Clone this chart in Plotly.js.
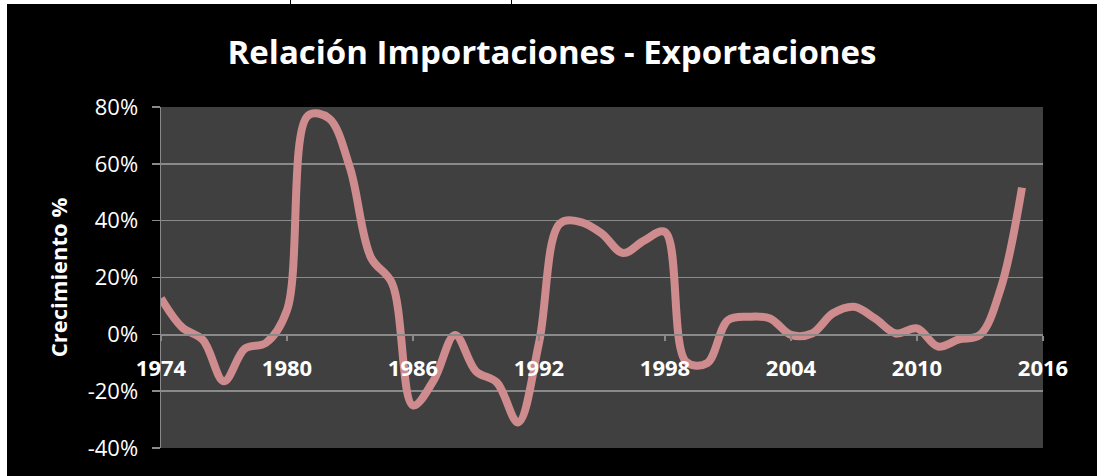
<!DOCTYPE html>
<html>
<head>
<meta charset="utf-8">
<script src="https://cdn.plot.ly/plotly-3.0.1.min.js"></script>
<style>
  html, body { margin: 0; padding: 0; background: #ffffff; width: 1097px; height: 476px; overflow: hidden; }
  #chart { position: absolute; left: 7px; top: 4px; width: 1090px; height: 472px; background: #000; }
  .vl { position: absolute; top: 0; width: 1px; height: 4px; background: #000; }
</style>
</head>
<body>
<div class="vl" style="left:290px"></div>
<div class="vl" style="left:511px"></div>
<div id="chart"></div>
<script>
const years = [1974,1975,1976,1977,1978,1979,1980,1981,1982,1983,1984,1985,1986,1987,1988,1989,1990,1991,1992,1993,1994,1995,1996,1997,1998,1999,2000,2001,2002,2003,2004,2005,2006,2007,2008,2009,2010,2011,2012,2013,2014,2015];
const growth = [0.127,0.025,-0.02,-0.165,-0.05,-0.03,0.085,0.77,0.76,0.585,0.27,0.18,-0.25,-0.16,-0.002,-0.13,-0.17,-0.31,-0.03,0.39,0.395,0.354,0.286,0.33,0.36,-0.096,-0.102,0.05,0.062,0.056,-0.002,0.003,0.074,0.097,0.056,0.003,0.021,-0.043,-0.018,-0.002,0.165,0.516];
const xTicks = [1974,1980,1986,1992,1998,2004,2010,2016];
const yTicks = [-0.4,-0.2,0,0.2,0.4,0.6,0.8];
const yTickText = ['-40%','-20%','0%','20%','40%','60%','80%'];

const grid = '#8a8a8a';
const trace = {
  x: years, y: growth, type: 'scatter', mode: 'lines',
  line: { color: '#cf8c8e', width: 8, shape: 'spline', smoothing: 1 },
  hoverinfo: 'skip'
};
const layout = {
  width: 1090, height: 472,
  paper_bgcolor: '#000000', plot_bgcolor: '#404040',
  margin: { l: 154, r: 54, t: 103, b: 28, pad: 0 },
  showlegend: false,
  title: {
    text: '<b>Relación Importaciones - Exportaciones</b>',
    font: { family: 'Open Sans', size: 33, color: '#ffffff' },
    xref: 'container', x: 0.5, xanchor: 'center',
    yref: 'container', y: 0.898, yanchor: 'middle'
  },
  xaxis: {
    type: 'linear', range: [1974, 2016],
    tickvals: xTicks, ticktext: xTicks.map(String),
    anchor: 'free', position: 1/3,
    showgrid: false, zeroline: false,
    showline: true, linecolor: grid, linewidth: 1.5,
    ticks: 'outside', ticklen: 5, tickcolor: grid, tickwidth: 1.5,
    ticklabelstandoff: 9,
    tickfont: { family: 'Open Sans', size: 22, color: '#ffffff', weight: 'bold' }
  },
  yaxis: {
    range: [-0.4, 0.8], domain: [0, 1],
    tickvals: yTicks, ticktext: yTickText,
    showgrid: true, gridcolor: grid, gridwidth: 1.5,
    zeroline: false,
    showline: true, linecolor: grid, linewidth: 1.5,
    ticks: 'outside', ticklen: 8, tickcolor: grid, tickwidth: 1.5,
    ticklabelstandoff: 9,
    tickfont: { family: 'Open Sans', size: 22, color: '#ffffff' },
    title: { text: '<b>Crecimiento %</b>', font: { family: 'Open Sans', size: 22, color: '#ffffff' }, standoff: 14 }
  }
};
Plotly.newPlot('chart', [trace], layout, { staticPlot: true, displayModeBar: false });
</script>
</body>
</html>
